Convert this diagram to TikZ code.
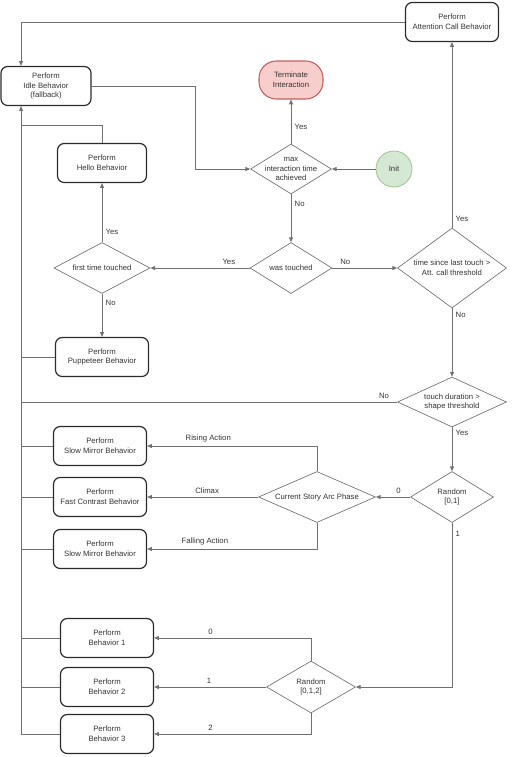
\documentclass[tikz,border=0pt]{standalone}
\usepackage{fontspec}
\setmainfont{Liberation Sans}
\usetikzlibrary{shapes.geometric,arrows.meta}

\definecolor{boxline}{HTML}{2B2B2B}
\definecolor{wireline}{HTML}{707070}
\definecolor{txt}{HTML}{333333}
\definecolor{termfill}{HTML}{F8CECC}
\definecolor{termline}{HTML}{C0605C}
\definecolor{initfill}{HTML}{D5E8D4}
\definecolor{initline}{HTML}{9CC38A}

\tikzset{
  small/.style={font=\fontsize{5.8}{7.4}\selectfont, text=txt},
  act/.style={small, draw=boxline, line width=0.9pt, rounded corners=5pt, fill=white,
    minimum width=69.75pt, minimum height=29.25pt, inner sep=0pt, align=center},
  dec/.style={small, diamond, draw=wireline, line width=0.5pt, fill=white, inner sep=-3pt, align=center},
  flow/.style={draw=wireline, line width=0.6pt, -{Triangle[length=3.6pt,width=3pt]}},
  wire/.style={draw=wireline, line width=0.6pt},
  lbl/.style={small, inner sep=2.5pt}
}

\begin{document}
\begin{tikzpicture}[x=0.75pt,y=0.75pt,yscale=-1,xscale=1]
	\useasboundingbox (0,0) rectangle (511,757);
	% left bus and bends
	\coordinate (bus) at (21,0);
	\coordinate (hup) at (21,125);
	\coordinate (bend) at (195,169);
	% top part
	\node[act, minimum width=69.75pt] (att) at (452,22) {Perform\\Attention Call Behavior};
	\node[act, minimum width=67.5pt] (idle) at (46,86) {Perform\\Idle Behavior\\(fallback)};
	\node[small, draw=termline, line width=0.8pt, fill=termfill, rounded corners=13pt, minimum width=48pt, minimum height=28.5pt, align=center] (term) at (291,80) {Terminate\\Interaction};
	\node[act, minimum width=66.75pt] (hello) at (102,163) {Perform\\Hello Behavior};
	\node[dec, aspect=1.62, minimum width=60.75pt, minimum height=37.5pt, inner sep=-7pt] (maxt) at (291,169) {max\\interaction time\\achieved};
	\node[small, circle, draw=initline, line width=0.6pt, fill=initfill, minimum size=27pt, inner sep=0pt] (init) at (394,169) {Init};
	% touch checks
	\node[dec, aspect=1.6, minimum width=61.5pt, minimum height=38.25pt] (touched) at (291,268) {was touched};
	\node[dec, aspect=1.88, minimum width=72pt, minimum height=38.25pt] (first) at (102,268) {first time touched};
	\node[dec, aspect=1.36, minimum width=81.75pt, minimum height=60pt] (since) at (452,268) {time since last touch >\\Att. call threshold};
	\node[act] (pup) at (102,357) {Perform\\Puppeteer Behavior};
	\node[dec, aspect=2.18, minimum width=81.75pt, minimum height=37.5pt] (dur) at (452,402) {touch duration >\\shape threshold};
	% story arc
	\node[dec, aspect=1.63, minimum width=62.25pt, minimum height=38.25pt] (rndA) at (452,497) {Random\\{[0,1]}};
	\node[dec, aspect=2.3, minimum width=87.75pt, minimum height=38.25pt] (arc) at (317,497) {Current Story Arc Phase};
	\node[act] (slowA) at (100,446) {Perform\\Slow Mirror Behavior};
	\node[act] (fast) at (100,497) {Perform\\Fast Contrast Behavior};
	\node[act] (slowB) at (100,549) {Perform\\Slow Mirror Behavior};
	% random behaviors
	\node[dec, aspect=1.71, minimum width=66.75pt, minimum height=39pt] (rndB) at (311,687) {Random\\{[0,1,2]}};
	\node[act] (behA) at (107,638) {Perform\\Behavior 1};
	\node[act] (behB) at (107,687) {Perform\\Behavior 2};
	\node[act] (behC) at (107,734) {Perform\\Behavior 3};

	% connectors
	\draw[flow] (att.west) -| (idle.north -| bus);
	\draw[flow] (behC.west) -| (idle.south -| bus);
	\draw[wire] (hello.north) |- (hup);
	\draw[wire] (pup.west) -- (pup.west -| bus);
	\draw[wire] (slowA.west) -- (slowA.west -| bus);
	\draw[wire] (fast.west) -- (fast.west -| bus);
	\draw[wire] (slowB.west) -- (slowB.west -| bus);
	\draw[wire] (behA.west) -- (behA.west -| bus);
	\draw[wire] (behB.west) -- (behB.west -| bus);
	\draw[flow] (idle.east) -| (bend) -- (maxt.west);
	\draw[flow] (init.west) -- (maxt.east);
	\draw[flow] (maxt.north) -- node[lbl, right, pos=0.38] (l1) {Yes} (term.south);
	\draw[flow] (maxt.south) -- node[lbl, right, pos=0.2] (l2) {No} (touched.north);
	\draw[flow] (touched.west) -- node[lbl, above, pos=0.21] (l3) {Yes} (first.east);
	\draw[flow] (touched.east) -- node[lbl, above, pos=0.2] (l4) {No} (since.west);
	\draw[flow] (first.north) -- node[lbl, right, pos=0.18] (l5) {Yes} (hello.south);
	\draw[flow] (first.south) -- node[lbl, right, pos=0.2] (l6) {No} (pup.north);
	\draw[flow] (since.north) -- node[lbl, right, pos=0.05] (l7) {Yes} (att.south);
	\draw[flow] (since.south) -- node[lbl, right, pos=0.1] (l8) {No} (dur.north);
	\draw[wire] (dur.west) -- node[lbl, above, pos=0.035] (l9) {No} (dur.west -| bus);
	\draw[flow] (dur.south) -- node[lbl, right, pos=0.13] (l10) {Yes} (rndA.north);
	\draw[flow] (rndA.west) -- node[lbl, above, pos=0.34] (l11) {0} (arc.east);
	\draw[flow] (rndA.south) |- node[lbl, right, pos=0.035] (l12) {1} (rndB.east);
	\draw[flow] (arc.north) |- node[lbl, above, pos=0.82] (l13) {Rising Action} (slowA.east);
	\draw[flow] (arc.west) -- node[lbl, above, pos=0.46] (l14) {Climax} (fast.east);
	\draw[flow] (arc.south) |- node[lbl, above, pos=0.83] (l15) {Falling Action} (slowB.east);
	\draw[flow] (rndB.north) |- node[lbl, above, pos=0.82] (l16) {0} (behA.east);
	\draw[flow] (rndB.west) -- node[lbl, above, pos=0.51] (l17) {1} (behB.east);
	\draw[flow] (rndB.south) |- node[lbl, above, pos=0.82] (l18) {2} (behC.east);
\end{tikzpicture}
\end{document}
